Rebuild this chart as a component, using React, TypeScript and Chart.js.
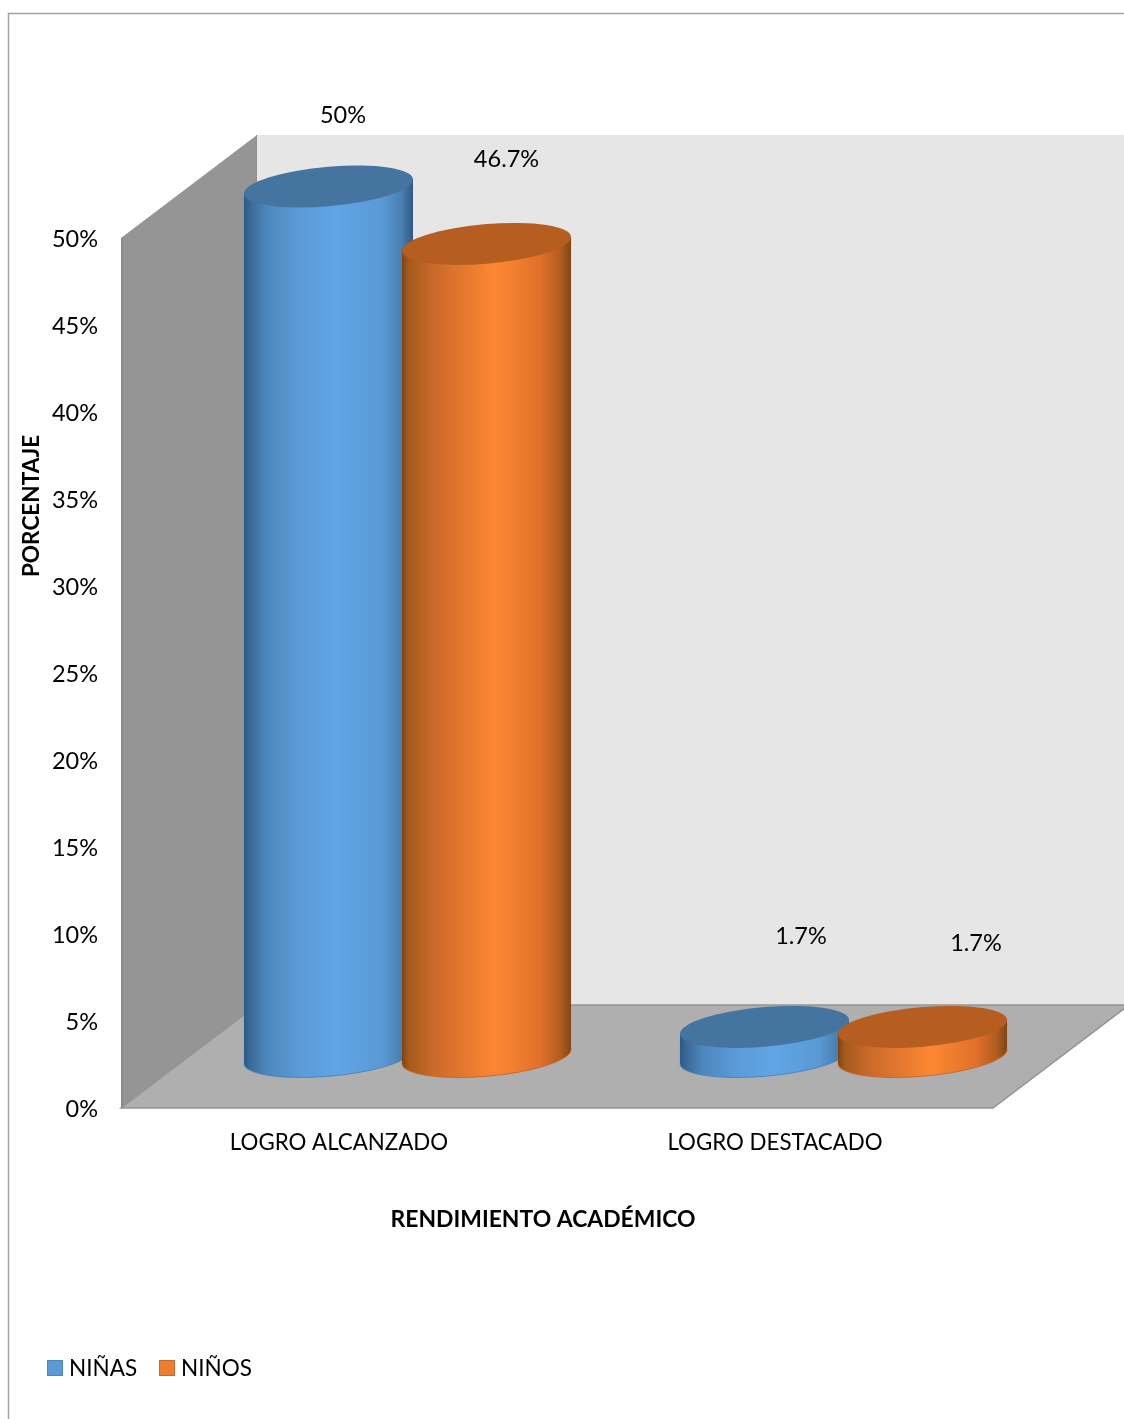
import React, { useEffect, useRef } from "react";
import { Chart, registerables } from "chart.js";

Chart.register(...registerables);

const categories = ["LOGRO ALCANZADO", "LOGRO DESTACADO"];
const ninas = [50, 1.7];
const ninos = [46.7, 1.7];
const seriesNames = ["NIÑAS", "NIÑOS"];
const yTicks = { min: 0, max: 50, step: 5 };

const FONT = "Lato, 'Noto Sans', sans-serif";
const DEPTH = { dx: 137, dy: -103 };

// Offsets of each value label from the centre of its cylinder's top face.
const labelOffsets = [
  [[14.5, -71], [36.5, -90]],
  [[20, -84], [53.5, -83]],
];

const palettes = [
  {
    top: "#44749f",
    edge: "#4a86bd",
    swatch: "#5b9bd5",
    swatchEdge: "#4f86b8",
    stops: [
      [0, "#2c5a85"], [0.04, "#3a6a98"], [0.13, "#4d86bb"], [0.33, "#5b9bd8"],
      [0.55, "#60a5e5"], [0.82, "#5a9ad4"], [0.93, "#4a7fb1"], [1, "#2f5b82"],
    ],
  },
  {
    top: "#b55e20",
    edge: "#c9692a",
    swatch: "#ed7d31",
    swatchEdge: "#c96a2b",
    stops: [
      [0, "#7e4414"], [0.04, "#a55a1c"], [0.18, "#c9692a"], [0.55, "#fe8733"],
      [0.82, "#e0702a"], [0.94, "#b05c20"], [1, "#804514"],
    ],
  },
];

// Half-width of a cylinder relative to its bar slot, and the tilt of its elliptical faces.
const RADIUS_RATIO = 0.535;
const TILT = 7;
const MINOR = 19.8;

function facePath(ctx: CanvasRenderingContext2D, cx: number, cy: number, r: number, from: number, to: number, ccw: boolean) {
  ctx.save();
  ctx.transform(r, -TILT, 0, MINOR, cx, cy);
  ctx.arc(0, 0, 1, from, to, ccw);
  ctx.restore();
}

const scenePlugin = {
  id: "scene",
  beforeDraw(chart: any) {
    const { ctx, scales, width, height } = chart;
    const { left, right } = scales.x;
    const { top, bottom } = scales.y;
    const dx = 136;
    const dy = DEPTH.dy;

    ctx.save();
    ctx.fillStyle = "#ffffff";
    ctx.fillRect(0, 0, width, height);
    ctx.strokeStyle = "#a3a3a3";
    ctx.lineWidth = 1.5;
    ctx.strokeRect(8.5, 13.5, width + 20, height + 20);

    // back wall
    ctx.fillStyle = "#e6e6e6";
    ctx.fillRect(left + dx, top + dy, width, bottom - top);

    // side wall
    ctx.beginPath();
    ctx.moveTo(left, top);
    ctx.lineTo(left + dx, top + dy);
    ctx.lineTo(left + dx, bottom + dy);
    ctx.lineTo(left, bottom);
    ctx.closePath();
    ctx.fillStyle = "#959595";
    ctx.fill();
    ctx.fillStyle = "#8a8a8a";
    ctx.fillRect(left, top, 2, bottom - top);
    ctx.fillStyle = "#8f8f8f";
    ctx.fillRect(left + dx - 1, top + dy, 1, bottom - top);

    // floor
    ctx.beginPath();
    ctx.moveTo(left, bottom);
    ctx.lineTo(right, bottom);
    ctx.lineTo(right + dx, bottom + dy);
    ctx.lineTo(left + dx, bottom + dy);
    ctx.closePath();
    ctx.fillStyle = "#afafaf";
    ctx.fill();
    ctx.strokeStyle = "#949494";
    ctx.lineWidth = 1.5;
    ctx.stroke();
    ctx.restore();
  },
  beforeDatasetsDraw(chart: any) {
    const { ctx } = chart;
    ctx.save();
    chart.data.datasets.forEach((_: any, di: number) => {
      const pal = palettes[di];
      chart.getDatasetMeta(di).data.forEach((bar: any) => {
        const r = bar.width * RADIUS_RATIO;
        const cx = bar.x + DEPTH.dx / 2;
        const topY = bar.y + DEPTH.dy / 2;
        const baseY = bar.base + DEPTH.dy / 2;

        const grad = ctx.createLinearGradient(cx - r, 0, cx + r, 0);
        pal.stops.forEach(([o, c]: any) => grad.addColorStop(o, c));

        // wall of the cylinder: down the left side, along the lower base rim, up the right side
        ctx.beginPath();
        ctx.moveTo(cx - r, topY + TILT);
        facePath(ctx, cx, baseY, r, Math.PI, 0, true);
        ctx.lineTo(cx + r, topY - TILT);
        ctx.closePath();
        ctx.fillStyle = grad;
        ctx.fill();

        ctx.beginPath();
        facePath(ctx, cx, baseY, r, Math.PI, 0, true);
        ctx.strokeStyle = pal.edge;
        ctx.lineWidth = 1;
        ctx.stroke();

        // top face
        ctx.beginPath();
        facePath(ctx, cx, topY, r, 0, Math.PI * 2, false);
        ctx.closePath();
        ctx.fillStyle = pal.top;
        ctx.fill();
      });
    });
    ctx.restore();
    // the plain rectangles are replaced by the cylinders above
    return false;
  },
  afterDraw(chart: any) {
    const { ctx } = chart;
    ctx.save();
    ctx.fillStyle = "#000000";
    ctx.textAlign = "center";
    ctx.textBaseline = "middle";

    // value labels
    ctx.font = `23.5px ${FONT}`;
    chart.data.datasets.forEach((ds: any, di: number) => {
      chart.getDatasetMeta(di).data.forEach((bar: any, i: number) => {
        const [ox, oy] = labelOffsets[di][i];
        ctx.fillText(`${ds.data[i]}%`, bar.x + DEPTH.dx / 2 + ox, bar.y + DEPTH.dy / 2 + oy);
      });
    });

    // axis titles
    ctx.font = `bold 22.9px ${FONT}`;
    ctx.fillText("RENDIMIENTO ACADÉMICO", 543, 1220);
    ctx.save();
    ctx.translate(32, 506);
    ctx.rotate(-Math.PI / 2);
    ctx.font = `bold 22.6px ${FONT}`;
    ctx.fillText("PORCENTAJE", 0, 0);
    ctx.restore();

    // legend
    ctx.font = `22.5px ${FONT}`;
    ctx.textAlign = "left";
    const legendY = 1368;
    const legendX = [47, 159];
    chart.data.datasets.forEach((ds: any, di: number) => {
      const x = legendX[di];
      ctx.fillStyle = palettes[di].swatch;
      ctx.strokeStyle = palettes[di].swatchEdge;
      ctx.lineWidth = 1;
      ctx.fillRect(x, legendY - 8, 16, 16);
      ctx.strokeRect(x + 0.5, legendY - 7.5, 15, 15);
      ctx.fillStyle = "#000000";
      ctx.fillText(ds.label, x + 22, legendY + 0.5);
    });
    ctx.restore();
  },
};

export default function App() {
  const ref = useRef<HTMLCanvasElement>(null);

  useEffect(() => {
    document.body.style.margin = "0";
    const chart = new Chart(ref.current as HTMLCanvasElement, {
      type: "bar",
      data: {
        labels: categories,
        datasets: [
          { label: seriesNames[0], data: ninas, backgroundColor: palettes[0].swatch, categoryPercentage: 0.7248, barPercentage: 1 },
          { label: seriesNames[1], data: ninos, backgroundColor: palettes[1].swatch, categoryPercentage: 0.7248, barPercentage: 1 },
        ],
      },
      options: {
        responsive: false,
        animation: false,
        layout: { autoPadding: false, padding: { left: 0, top: 238, right: 131, bottom: 211 } },
        plugins: { legend: { display: false }, tooltip: { enabled: false } },
        scales: {
          x: {
            grid: { display: false },
            border: { display: false },
            ticks: { color: "#000000", font: { family: FONT, size: 22.3 }, padding: 13, maxRotation: 0 },
            afterFit: (s: any) => { s.height = 100; },
          },
          y: {
            min: yTicks.min,
            max: yTicks.max,
            grid: { display: false, drawTicks: false },
            border: { display: false },
            ticks: {
              stepSize: yTicks.step,
              color: "#000000",
              font: { family: FONT, size: 23.5 },
              padding: 23,
              callback: (v: any) => `${v}%`,
            },
            afterFit: (s: any) => {
              s.width = 121;
              // nudge the tick labels onto the optical centre of each tick
              if (!s.nudged) {
                s.nudged = true;
                const drawLabels = s.drawLabels;
                s.drawLabels = function (area: any) {
                  this.ctx.save();
                  this.ctx.translate(0, 1.5);
                  drawLabels.call(this, area);
                  this.ctx.restore();
                };
              }
            },
          },
        },
      },
      plugins: [scenePlugin],
    } as any);
    return () => chart.destroy();
  }, []);

  return <canvas ref={ref} width={1124} height={1419} style={{ display: "block" }} />;
}
